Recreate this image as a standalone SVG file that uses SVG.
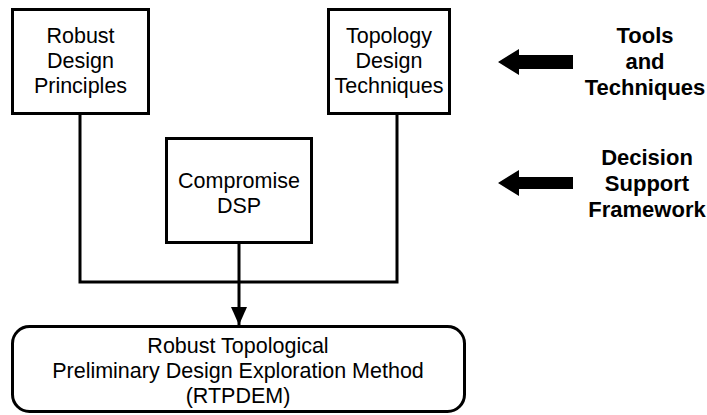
<svg xmlns="http://www.w3.org/2000/svg" width="707" height="415" viewBox="0 0 707 415">
  <style>
    .box { fill: #ffffff; stroke: #000000; stroke-width: 3; }
    .wire { fill: none; stroke: #000000; stroke-width: 3; }
    .lbl { font-family: "Liberation Sans", Arial, sans-serif; font-size: 21.5px; fill: #000000; text-anchor: middle; }
    .side { font-family: "Liberation Sans", Arial, sans-serif; font-size: 22px; font-weight: bold; fill: #000000; text-anchor: middle; }
    .fat { fill: #000000; }
  </style>
  <defs>
    <marker id="head" markerWidth="16" markerHeight="18" viewBox="0 0 16 18" refX="18" refY="8" orient="auto" markerUnits="userSpaceOnUse">
      <path d="M0,0 L18,8 L0,16 Z" fill="#000000"/>
    </marker>
  </defs>

  <!-- connectors -->
  <g id="connectors">
    <path class="wire" d="M80,113 V282 H397 V113"/>
    <path class="wire" d="M239,243 V325" marker-end="url(#head)"/>
  </g>

  <!-- upper left input -->
  <g id="robust-design-principles">
    <rect class="box" x="12.5" y="9.5" width="136" height="104"/>
    <text class="lbl" x="80.5" y="43">Robust</text>
    <text class="lbl" x="80.5" y="68">Design</text>
    <text class="lbl" x="80.5" y="93">Principles</text>
  </g>

  <!-- upper right input -->
  <g id="topology-design-techniques">
    <rect class="box" x="328.5" y="9.5" width="121" height="104"/>
    <text class="lbl" x="389" y="43">Topology</text>
    <text class="lbl" x="389" y="68">Design</text>
    <text class="lbl" x="389" y="93">Techniques</text>
  </g>

  <!-- middle input -->
  <g id="compromise-dsp">
    <rect class="box" x="166.5" y="138.5" width="145" height="104"/>
    <text class="lbl" x="239" y="188">Compromise</text>
    <text class="lbl" x="239" y="213">DSP</text>
  </g>

  <!-- resulting method -->
  <g id="rtpdem">
    <rect class="box" x="12.5" y="326.5" width="452" height="85" rx="17" ry="17"/>
    <text class="lbl" x="238" y="353">Robust Topological</text>
    <text class="lbl" x="238" y="378">Preliminary Design Exploration Method</text>
    <text class="lbl" x="238" y="403">(RTPDEM)</text>
  </g>

  <!-- side annotations -->
  <g id="tools-and-techniques">
    <path class="fat" d="M498,62 L519,49 L519,55 L573,55 L573,69 L519,69 L519,75 Z"/>
    <text class="side" x="645" y="43">Tools</text>
    <text class="side" x="645" y="69">and</text>
    <text class="side" x="645" y="95">Techniques</text>
  </g>

  <g id="decision-support-framework">
    <path class="fat" d="M498,183 L519,170 L519,177 L573,177 L573,189 L519,189 L519,196 Z"/>
    <text class="side" x="647" y="165">Decision</text>
    <text class="side" x="647" y="191">Support</text>
    <text class="side" x="647" y="217">Framework</text>
  </g>
</svg>
